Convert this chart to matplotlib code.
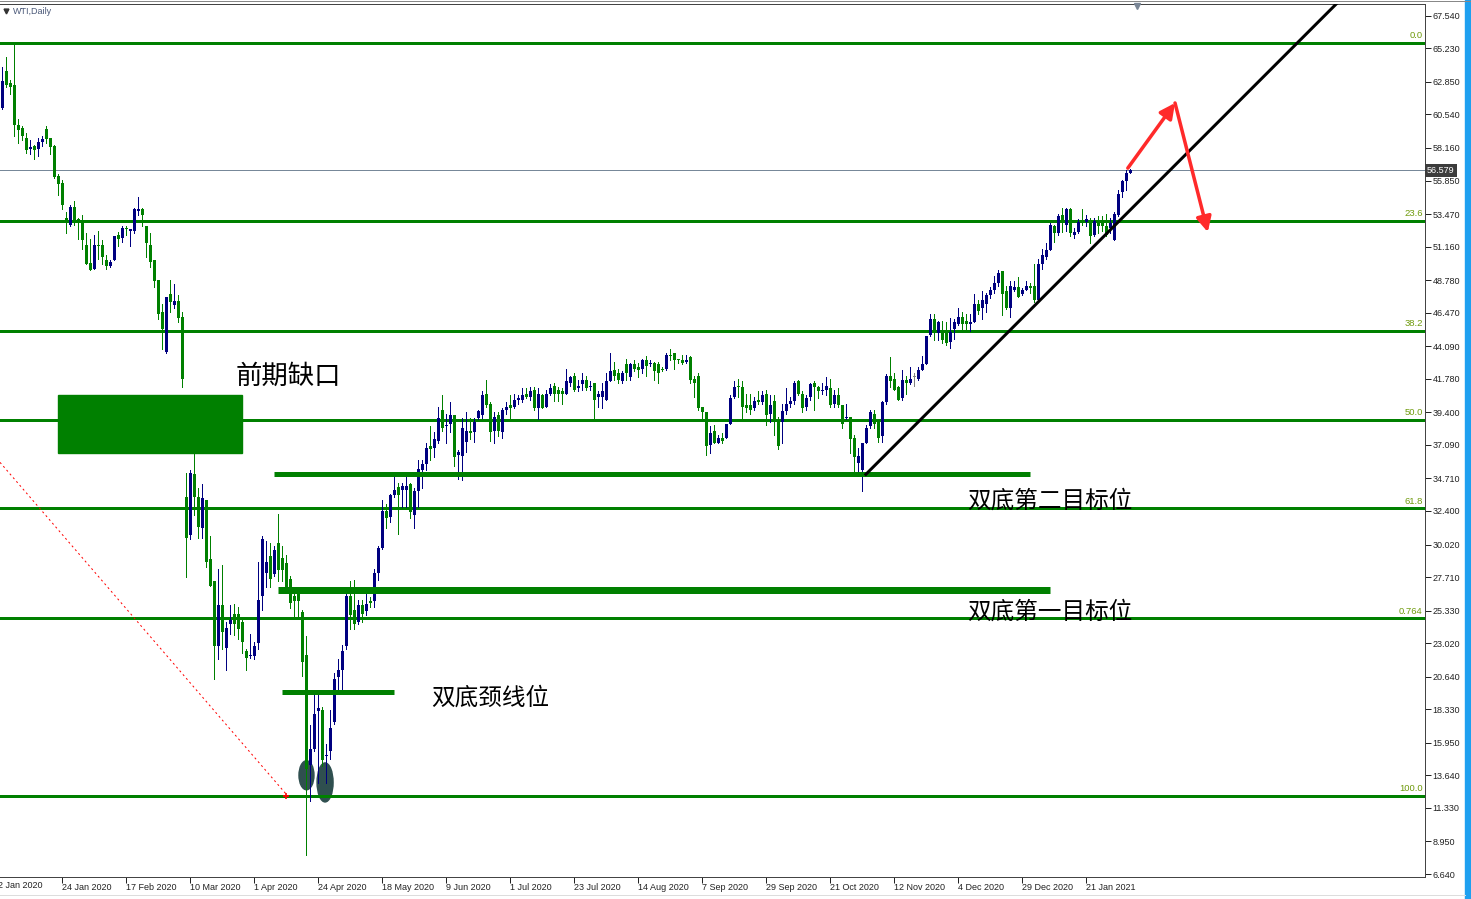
import numpy as np
import matplotlib.pyplot as plt
from matplotlib.patches import Rectangle, Ellipse
from matplotlib.lines import Line2D

plt.rcParams['font.family'] = ['Liberation Sans', 'Noto Sans CJK SC', 'DejaVu Sans']

# WTI daily OHLC, bar 1 = 3 Jan 2020 ... bar 283 = last bar
opens = [
    61.0, 63.6, 62.8, 62.6, 59.8, 59.6, 58.9, 58.1, 58.3, 58.1,
    58.6, 59.5, 58.9, 58.3, 56.2, 55.7, 53.2, 52.7, 54.0, 53.1,
    52.9, 51.3, 50.0, 49.6, 51.3, 51.3, 50.2, 49.8, 50.2, 52.0,
    51.8, 52.5, 52.3, 52.3, 53.7, 53.8, 52.6, 51.3, 50.2, 48.8,
    46.5, 43.7, 47.8, 47.0, 47.3, 46.2, 33.4, 30.7, 35.0, 33.4,
    31.2, 33.2, 29.0, 27.4, 22.8, 25.7, 22.7, 24.4, 25.1, 25.1,
    24.5, 22.5, 22.1, 22.1, 23.0, 26.4, 28.0, 29.2, 27.9, 30.1,
    29.1, 28.7, 27.6, 26.4, 26.6, 25.2, 22.2, 14.4, 15.5, 18.2,
    18.3, 15.0, 15.4, 17.4, 20.6, 21.1, 22.8, 26.4, 25.4, 24.5,
    25.7, 25.3, 26.0, 26.0, 28.0, 29.8, 32.4, 32.0, 33.5, 34.1,
    33.9, 33.9, 34.3, 32.1, 33.8, 35.3, 35.7, 37.0, 36.9, 37.4,
    39.6, 38.4, 38.6, 39.2, 36.4, 36.3, 37.3, 38.1, 38.0, 39.0,
    39.2, 40.7, 40.0, 38.1, 39.2, 38.0, 39.6, 39.9, 39.8, 40.3,
    40.3, 40.7, 40.5, 41.0, 39.7, 40.6, 39.8, 40.7, 41.3, 41.0,
    40.9, 40.7, 41.5, 42.0, 41.1, 41.4, 41.7, 41.2, 41.5, 40.5,
    40.5, 40.3, 41.6, 42.4, 42.2, 41.6, 42.8, 41.9, 42.8, 42.6,
    42.5, 43.1, 42.8, 42.9, 42.8, 42.5, 42.5, 43.5, 43.6, 43.2,
    43.1, 43.0, 43.3, 41.8, 42.0, 39.8, 39.4, 37.1, 38.1, 37.2,
    37.6, 37.6, 38.6, 40.5, 41.3, 41.2, 39.9, 39.9, 39.7, 40.3,
    40.1, 40.7, 39.3, 40.2, 38.7, 38.7, 39.5, 40.0, 40.2, 41.6,
    40.7, 39.8, 40.5, 41.5, 41.2, 40.9, 41.0, 41.1, 40.0, 40.6,
    39.9, 39.0, 39.1, 37.6, 35.8, 35.3, 37.2, 38.4, 39.3, 38.7,
    37.7, 40.1, 42.0, 41.8, 41.2, 40.4, 41.7, 41.5, 41.9, 41.8,
    42.4, 42.8, 44.9, 46.0, 45.0, 45.2, 45.2, 44.4, 45.3, 45.7,
    46.2, 45.9, 45.7, 45.8, 47.1, 46.8, 47.1, 47.7, 48.1, 48.6,
    49.4, 48.0, 46.8, 48.1, 48.3, 47.8, 48.1, 48.4, 48.4, 47.4,
    49.9, 50.4, 50.9, 52.6, 52.1, 53.4, 52.7, 53.8, 52.0, 52.2,
    52.9, 52.9, 53.0, 52.0, 53.0, 52.8, 52.6, 52.5, 51.6, 53.4,
    55.0, 55.8, 56.4,
]
highs = [
    63.9, 64.6, 63.0, 65.6, 60.2, 59.7, 59.2, 58.7, 58.4, 58.9,
    59.0, 59.7, 58.9, 58.4, 56.3, 55.9, 53.6, 54.1, 54.4, 53.2,
    53.4, 52.1, 51.7, 52.0, 52.3, 51.6, 50.6, 50.2, 51.9, 52.2,
    52.6, 52.6, 52.4, 53.9, 54.7, 53.9, 52.6, 52.1, 50.2, 48.8,
    47.1, 47.6, 48.8, 48.5, 47.7, 46.5, 35.1, 35.3, 36.5, 34.0,
    34.3, 33.2, 30.6, 27.4, 28.3, 28.6, 24.5, 25.7, 25.8, 25.6,
    24.7, 22.6, 23.7, 23.1, 28.8, 30.6, 30.3, 30.1, 29.9, 32.2,
    29.9, 29.3, 27.8, 27.0, 27.0, 25.4, 23.5, 17.2, 19.5, 19.5,
    18.5, 15.9, 18.3, 20.9, 21.9, 22.9, 26.7, 27.4, 27.5, 26.1,
    26.1, 26.8, 26.3, 28.3, 29.9, 33.2, 32.9, 33.6, 34.8, 34.4,
    34.4, 34.9, 34.4, 34.0, 36.0, 36.0, 37.2, 38.4, 38.0, 39.8,
    40.6, 39.3, 40.1, 39.2, 36.7, 39.0, 39.4, 39.0, 39.0, 39.6,
    40.9, 41.7, 40.1, 39.4, 39.4, 39.7, 40.1, 40.6, 40.7, 40.6,
    41.1, 41.1, 41.2, 41.2, 41.1, 40.7, 41.0, 41.4, 41.5, 41.2,
    41.1, 42.5, 42.0, 42.2, 41.7, 42.2, 42.0, 41.6, 41.5, 40.9,
    41.5, 42.2, 43.6, 43.0, 42.5, 42.3, 43.2, 42.9, 43.1, 42.9,
    43.2, 43.4, 43.1, 43.0, 43.0, 42.6, 43.6, 43.9, 43.6, 43.2,
    43.5, 43.5, 43.4, 42.0, 42.2, 39.8, 39.4, 38.4, 38.5, 37.8,
    37.9, 38.6, 40.6, 41.6, 41.8, 41.6, 40.7, 40.7, 40.5, 40.9,
    40.9, 41.0, 40.6, 40.6, 39.1, 40.0, 41.1, 40.5, 41.6, 41.7,
    40.9, 40.6, 41.5, 41.6, 41.3, 41.5, 41.9, 41.8, 41.0, 41.1,
    39.9, 40.0, 39.1, 37.8, 36.9, 37.2, 38.5, 39.6, 39.6, 38.9,
    40.2, 42.1, 43.3, 42.2, 41.3, 42.4, 42.0, 42.6, 42.2, 42.6,
    43.4, 44.8, 46.4, 46.4, 45.9, 45.9, 45.8, 46.1, 46.0, 46.8,
    46.5, 46.4, 46.4, 47.8, 47.4, 48.0, 47.9, 48.3, 49.1, 49.5,
    49.4, 48.4, 48.7, 48.7, 49.0, 48.2, 48.7, 48.6, 49.9, 50.3,
    51.0, 51.4, 52.8, 52.7, 53.5, 53.9, 53.9, 53.9, 52.5, 53.1,
    53.8, 53.4, 53.2, 53.2, 53.3, 53.3, 53.5, 53.2, 53.6, 55.2,
    55.9, 56.6, 56.7,
]
lows = [
    60.9, 62.5, 62.0, 59.0, 58.5, 58.7, 57.8, 57.7, 57.4, 57.6,
    58.3, 58.5, 57.7, 56.0, 54.8, 53.8, 52.1, 52.6, 52.7, 51.7,
    51.0, 49.9, 49.5, 49.6, 50.3, 49.9, 49.6, 49.7, 50.2, 51.2,
    51.5, 52.0, 51.2, 52.1, 53.4, 52.6, 50.4, 49.7, 48.3, 46.0,
    43.9, 43.6, 46.5, 46.8, 45.8, 41.2, 27.7, 30.4, 32.1, 30.5,
    30.5, 28.4, 27.1, 20.5, 21.9, 22.6, 21.1, 23.7, 23.6, 23.3,
    22.3, 21.1, 22.0, 21.9, 22.6, 25.4, 27.0, 27.0, 27.8, 27.4,
    27.4, 26.9, 25.5, 24.9, 24.9, 20.7, 8.0, 11.8, 15.4, 13.1,
    14.3, 13.1, 14.8, 17.3, 19.6, 19.8, 22.6, 24.0, 24.0, 24.4,
    24.5, 25.0, 25.6, 25.6, 27.5, 29.7, 31.2, 31.6, 33.4, 30.8,
    32.7, 32.7, 31.9, 31.2, 32.7, 34.0, 35.3, 36.0, 36.2, 37.2,
    38.1, 37.2, 38.0, 35.6, 34.7, 34.6, 36.6, 37.5, 37.3, 38.9,
    39.0, 39.8, 37.4, 37.2, 37.7, 37.6, 39.3, 39.0, 39.7, 40.0,
    40.1, 40.4, 40.3, 39.6, 38.9, 39.7, 39.8, 40.6, 40.2, 40.2,
    40.0, 40.7, 41.3, 40.9, 40.9, 41.0, 41.0, 41.0, 38.9, 39.8,
    39.7, 40.3, 41.6, 41.7, 41.5, 41.5, 41.7, 41.7, 42.3, 41.9,
    42.2, 42.0, 42.7, 41.7, 41.5, 42.3, 42.4, 43.1, 42.5, 42.9,
    42.8, 42.9, 41.5, 40.5, 39.6, 39.0, 36.4, 36.5, 37.2, 37.2,
    37.2, 37.6, 38.6, 40.4, 40.5, 39.0, 39.4, 39.3, 39.6, 40.0,
    40.0, 38.5, 38.7, 37.8, 36.8, 37.2, 39.3, 39.8, 40.0, 40.6,
    39.4, 39.6, 40.3, 39.6, 40.4, 40.7, 40.6, 39.8, 39.8, 39.8,
    38.3, 38.9, 36.5, 35.1, 35.2, 33.8, 37.2, 38.3, 38.3, 37.3,
    37.3, 40.0, 41.2, 41.0, 40.3, 40.3, 40.7, 41.4, 41.3, 41.7,
    42.4, 42.8, 44.8, 44.5, 44.5, 44.3, 44.2, 44.0, 44.6, 45.6,
    45.2, 45.2, 45.2, 45.8, 46.4, 46.0, 46.5, 47.5, 47.9, 48.4,
    46.3, 46.7, 46.2, 48.0, 47.6, 47.7, 48.1, 47.9, 47.2, 47.4,
    49.6, 50.3, 50.9, 51.5, 52.0, 52.2, 52.3, 51.9, 51.8, 52.1,
    52.7, 52.6, 51.4, 51.9, 52.1, 52.3, 51.9, 52.1, 51.6, 53.3,
    54.7, 55.2, 56.4,
]
closes = [
    62.9, 62.6, 62.5, 59.8, 59.4, 59.0, 58.0, 58.2, 58.0, 58.6,
    58.8, 58.8, 58.2, 56.1, 55.6, 54.1, 52.8, 54.0, 53.0, 52.9,
    51.6, 49.9, 49.5, 51.3, 51.2, 50.4, 49.8, 50.1, 51.9, 51.7,
    52.5, 52.4, 52.4, 53.8, 53.8, 53.4, 51.4, 50.1, 48.7, 46.4,
    45.3, 47.6, 47.2, 47.3, 46.1, 41.8, 30.5, 35.1, 33.4, 31.3,
    33.3, 28.8, 27.1, 22.8, 25.7, 23.8, 24.1, 24.7, 24.4, 24.0,
    23.1, 22.0, 22.2, 22.8, 26.1, 30.4, 28.8, 27.6, 29.6, 28.2,
    28.2, 27.0, 25.9, 26.0, 26.0, 21.7, 14.1, 15.5, 18.0, 18.4,
    14.7, 15.1, 17.0, 20.5, 21.1, 22.5, 26.4, 25.0, 24.4, 25.7,
    25.1, 25.8, 25.9, 28.0, 29.8, 32.4, 31.9, 33.5, 33.9, 33.5,
    34.2, 34.2, 32.3, 33.8, 35.4, 35.7, 36.9, 36.8, 37.5, 39.0,
    38.3, 38.5, 39.2, 36.2, 36.6, 38.3, 38.1, 37.9, 38.7, 39.5,
    40.6, 39.9, 38.0, 39.1, 38.1, 39.6, 39.8, 39.7, 40.3, 40.4,
    40.6, 40.5, 40.9, 39.7, 40.7, 39.7, 40.7, 41.1, 40.7, 40.7,
    40.7, 41.6, 41.9, 41.0, 41.3, 41.7, 41.1, 41.3, 40.3, 40.7,
    40.9, 41.6, 42.3, 42.0, 41.7, 42.2, 42.2, 42.8, 42.5, 42.4,
    43.1, 42.7, 42.9, 42.3, 42.2, 42.4, 43.5, 43.4, 43.1, 43.1,
    42.9, 43.1, 41.7, 41.5, 39.7, 39.4, 37.0, 37.9, 37.2, 37.6,
    37.4, 38.6, 40.4, 41.2, 41.2, 39.8, 39.7, 39.6, 40.2, 40.1,
    40.6, 39.2, 39.9, 38.7, 37.0, 39.5, 40.0, 40.2, 41.5, 40.7,
    39.7, 40.4, 41.4, 41.2, 40.9, 41.0, 41.3, 39.9, 40.6, 39.9,
    38.6, 39.1, 37.5, 36.2, 36.3, 37.2, 38.3, 39.4, 38.6, 37.6,
    40.1, 42.0, 41.6, 41.0, 40.3, 41.7, 41.5, 41.8, 41.9, 42.4,
    42.8, 44.8, 46.0, 45.0, 45.8, 44.5, 44.3, 45.1, 45.8, 46.2,
    45.7, 45.7, 45.8, 47.1, 46.6, 47.4, 47.7, 48.1, 48.6, 49.3,
    47.8, 46.8, 48.4, 48.3, 47.6, 48.1, 48.4, 48.2, 47.4, 49.9,
    50.6, 50.9, 52.7, 52.1, 53.3, 52.9, 53.8, 52.1, 52.2, 52.9,
    52.8, 53.1, 51.9, 53.0, 52.6, 52.6, 52.0, 52.8, 53.5, 54.9,
    55.8, 56.4, 56.579,
]

date_labels = ["2 Jan 2020", "24 Jan 2020", "17 Feb 2020", "10 Mar 2020", "1 Apr 2020",
               "24 Apr 2020", "18 May 2020", "9 Jun 2020", "1 Jul 2020", "23 Jul 2020",
               "14 Aug 2020", "7 Sep 2020", "29 Sep 2020", "21 Oct 2020", "12 Nov 2020",
               "4 Dec 2020", "29 Dec 2020", "21 Jan 2021"]
price_ticks = [67.54, 65.23, 62.85, 60.54, 58.16, 55.85, 53.47, 51.16, 48.78, 46.47,
               44.09, 41.78, 39.40, 37.09, 34.71, 32.40, 30.02, 27.71, 25.33, 23.02,
               20.64, 18.33, 15.95, 13.64, 11.33, 8.95, 6.64]

fib_levels = [65.60, 52.99, 45.19, 38.88, 32.58, 24.78, 12.17]
fib_names = ["0.0", "23.6", "38.2", "50.0", "61.8", "0.764", "100.0"]
last_price = 56.579

W, H = 1471, 899
px = 0.72  # one pixel in points
GREEN = '#008000'
NAVY = '#000080'

fig = plt.figure(figsize=(W / 100, H / 100), dpi=100)
ax = fig.add_axes([0, (H - 877) / H, 1425 / W, (877 - 3.5) / H])
ax.set_xlim(0.425, 356.7)
ax.set_ylim(6.43, 68.41)

o = np.array(opens)
hi = np.array(highs)
lo = np.array(lows)
c = np.array(closes)
x = np.arange(1, len(o) + 1)
cols = np.where(c > o, NAVY, np.where(c < o, GREEN, '#808080'))

# fib levels
for lv, nm in zip(fib_levels, fib_names):
    ax.axhline(lv, color=GREEN, lw=3 * px, zorder=2)
    ax.text(0.9985, lv + 0.2, nm, transform=ax.get_yaxis_transform(), ha='right',
            va='bottom', fontsize=6.8, color='#6f9a0c', zorder=5)

ax.axhline(last_price, color='#778899', lw=px, zorder=1.8)

# double bottom marks
ax.add_patch(Ellipse((77.05, 13.65), 3.75, 2.06, color='#2f4f4f', zorder=1.5))
ax.add_patch(Ellipse((81.7, 13.14), 4.0, 2.77, color='#2f4f4f', zorder=1.5))

# candles
ax.vlines(x, lo, hi, colors=cols, lw=px, zorder=3, antialiased=False)
ax.bar(x, np.maximum(np.abs(c - o), 0.07), bottom=np.minimum(o, c), width=0.75,
       color=cols, lw=0, zorder=3.1, antialiased=False)

# drawn objects
ax.add_patch(Rectangle((14.9, 36.51), 46.0, 4.12, color=GREEN, zorder=4))
ax.hlines(35.02, 68.9, 257.9, color=GREEN, lw=5 * px, zorder=4)
ax.hlines(26.79, 69.9, 262.9, color=GREEN, lw=7 * px, zorder=4)
ax.hlines(19.53, 70.9, 98.9, color=GREEN, lw=5 * px, zorder=4)
ax.plot([216.9, 336.0], [35.0, 68.8], color='black', lw=3 * px, zorder=4)
ax.plot([0.43, 72.4], [35.85, 12.17], color='red', lw=px, ls=(0, (2, 3)), zorder=4)
ax.plot(72.0, 12.17, marker='+', color='red', ms=4, mew=1.2, zorder=4)

arrow = dict(arrowstyle='-|>,head_length=0.5,head_width=0.25', color='#ff2a2a',
             lw=3.5 * px, mutation_scale=18, shrinkA=0, shrinkB=0)
ax.annotate('', xy=(294.2, 61.35), xytext=(282.4, 56.73), arrowprops=arrow, zorder=5)
ax.annotate('', xy=(302.4, 52.19), xytext=(294.2, 61.35), arrowprops=arrow, zorder=5)

ax.text(59.4, 41.91, '前期缺口', fontsize=19, va='center', ha='left', zorder=6)
ax.text(242.2, 33.1, '双底第二目标位', fontsize=17, va='center', ha='left', zorder=6)
ax.text(242.2, 25.2, '双底第一目标位', fontsize=17, va='center', ha='left', zorder=6)
ax.text(108.2, 19.1, '双底颈线位', fontsize=17, va='center', ha='left', zorder=6)

# axes styling
ax.spines['left'].set_visible(False)
for s in ['right', 'bottom', 'top']:
    ax.spines[s].set_color('#444444')
    ax.spines[s].set_linewidth(px)

ax.yaxis.tick_right()
ax.set_yticks(price_ticks, [f'{v:.3f}' for v in price_ticks])
ax.tick_params(axis='y', direction='out', length=4, width=px, pad=1.5,
               labelsize=6.5, colors='#222222')
pos = [16 * k for k in range(len(date_labels))]
ax.set_xticks(pos[1:], date_labels[1:], ha='left')
ax.tick_params(axis='x', direction='out', length=4, width=px, pad=0,
               labelsize=6.5, colors='#222222')
ax.annotate(date_labels[0], xy=(pos[0], 0), xycoords=('data', 'axes fraction'),
            xytext=(0, -2.9), textcoords='offset points', ha='left', va='top',
            fontsize=6.5, color='#222222', annotation_clip=False)

ax.text(1.0015, last_price, f'{last_price:.3f}', transform=ax.get_yaxis_transform(),
        ha='left', va='center', fontsize=6.5, color='white', zorder=7, clip_on=False,
        bbox=dict(boxstyle='square,pad=0.2', fc='#3c3c3c', ec='none'))
ax.plot(284.7, 68.25, marker='v', ms=5, color='#7a8696', clip_on=False, zorder=7)

# window chrome
fig.text(13 / W, 1 - 11 / H, 'WTI,Daily', fontsize=6.5, color='#4a5878', va='center')
fig.add_artist(Line2D([6 / W], [1 - 11 / H], marker='v', ms=3.5, color='#333333'))
fig.add_artist(Line2D([0, 1], [1 - 1 / H] * 2, color='#888888', lw=px))
fig.add_artist(Rectangle((1465 / W, 0), 6 / W, 1, transform=fig.transFigure,
                         color='#1ea0f0'))
fig.add_artist(Line2D([0, 1465 / W], [4 / H] * 2, color='#dddddd', lw=px))

fig.savefig('out.png', dpi=100)
